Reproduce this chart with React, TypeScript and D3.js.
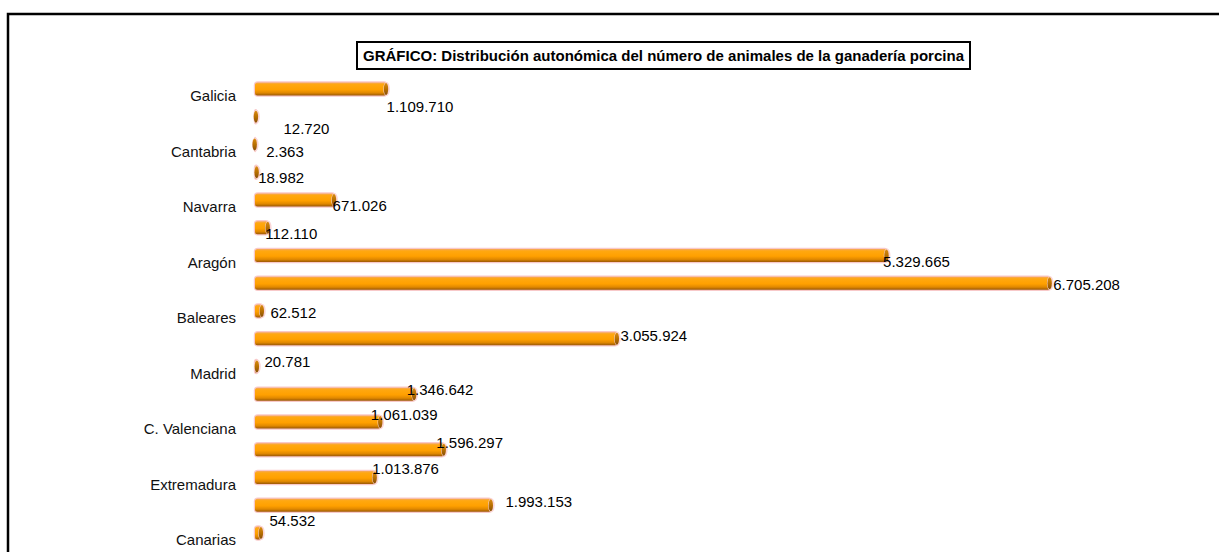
import React from "react";
import * as d3 from "d3";

const categories = [
  "Galicia", "P. de Asturias", "Cantabria", "País Vasco", "Navarra", "La Rioja",
  "Aragón", "Cataluña", "Baleares", "Castilla y León", "Madrid", "Castilla-La Mancha",
  "C. Valenciana", "R. de Murcia", "Extremadura", "Andalucía", "Canarias",
];
const values = [
  1109710, 12720, 2363, 18982, 671026, 112110,
  5329665, 6705208, 62512, 3055924, 20781, 1346642,
  1061039, 1596297, 1013876, 1993153, 54532,
];
const titleText = "GRÁFICO: Distribución autonómica del número de animales de la ganadería porcina";

// label placement offsets (layout only): [dx from bar end, dy baseline from row centre]
const labelOffsets: [number, number][] = [
  [0, 22], [27, 16], [11, 12], [1, 10], [-2, 10], [-3, 10],
  [-4, 11], [3, 6], [8, 6], [3, 1], [7, 0], [-8, 0],
  [-10, -3], [-8, -3], [-3, -4], [14, 1], [8, -8],
];

const W = 1219;
const H = 552;

export default function App() {
  const x = d3.scaleLinear().domain([0, 7000000]).range([255, 255 + 7 * 118.6]);
  const y = d3.scaleBand<string>().domain(categories).range([75.1, 75.1 + 17 * 27.75]).paddingInner(0).paddingOuter(0);
  const fmt = d3.formatLocale({ decimal: ",", thousands: ".", grouping: [3], currency: ["", "€"] }).format(",d");
  const bh = 13;
  const font = "'Liberation Sans', Arial, sans-serif";

  return (
    <svg width={W} height={H} style={{ position: "absolute", left: 0, top: 0, background: "#fff" }}>
      <defs>
        <linearGradient id="barGrad" x1="0" y1="0" x2="0" y2="1">
          <stop offset="0" stopColor="#F5A860" />
          <stop offset="0.15" stopColor="#FFA810" />
          <stop offset="0.55" stopColor="#FFA000" />
          <stop offset="0.8" stopColor="#E08800" />
          <stop offset="1" stopColor="#9A5806" />
        </linearGradient>
        <linearGradient id="capGrad" x1="0" y1="0" x2="0" y2="1">
          <stop offset="0" stopColor="#D88A10" />
          <stop offset="0.5" stopColor="#B87000" />
          <stop offset="1" stopColor="#8A5008" />
        </linearGradient>
        <filter id="glow" x="-20%" y="-50%" width="140%" height="200%">
          <feGaussianBlur stdDeviation="0.6" />
        </filter>
      </defs>
      <rect x={8} y={14} width={1240} height={560} fill="#fff" stroke="#000" strokeWidth={2.5} />
      <rect x={357} y={42} width={613} height={27} fill="#fff" stroke="#000" strokeWidth={2} />
      <text x={663.5} y={61} textAnchor="middle" fontFamily={font} fontWeight="bold" fontSize={15} fill="#000">
        {titleText}
      </text>
      {categories.map((c, i) => {
        const cy = (y(c) as number) + y.bandwidth() / 2;
        const x0 = x(0);
        const x1 = x(values[i]);
        const [dx, dy] = labelOffsets[i];
        return (
          <g key={c}>
            {i % 2 === 0 && (
              <text x={236} y={cy + 12.5} textAnchor="end" fontFamily={font} fontSize={15} fill="#111">
                {c}
              </text>
            )}
            <rect x={x0 - 1.2} y={cy - bh / 2 - 1.2} width={x1 - x0 + 2.4} height={bh + 2.4} rx={4} fill="#F7C0C0" opacity={0.85} filter="url(#glow)" />
            <rect x={x0} y={cy - bh / 2} width={Math.max(0, x1 - x0)} height={bh} rx={2.5} fill="url(#barGrad)" />
            <ellipse cx={x1} cy={cy} rx={3.3} ry={bh / 2 + 0.5} fill="#FBD6D6" />
            <ellipse cx={x1 - 0.6} cy={cy} rx={2.2} ry={bh / 2 - 0.6} fill="url(#capGrad)" />
            <text x={x1 + dx} y={cy + dy + 1} fontFamily={font} fontSize={15} fill="#000">
              {fmt(values[i])}
            </text>
          </g>
        );
      })}
    </svg>
  );
}
